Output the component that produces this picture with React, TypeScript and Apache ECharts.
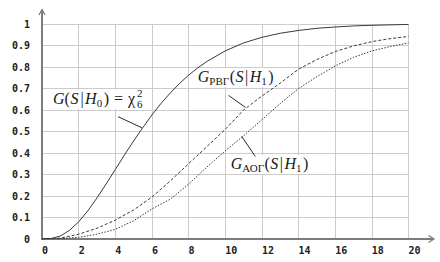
import React, { useEffect, useRef } from "react";
import * as echarts from "echarts";

// ---- data ----
const xTicks = [0, 2, 4, 6, 8, 10, 12, 14, 16, 18, 20];
const xTickLabels = ["0", "2", "4", "6", "8", "10", "12", "14", "16", "18", "20"];
const yTickLabels = ["0", "0.1", "0.2", "0.3", "0.4", "0.5", "0.6", "0.7", "0.8", "0.9", "1"];

// G(S|H0) = chi^2_6 (solid)
const solidX = [0, 0.5, 1, 1.5, 2, 2.5, 3, 3.5, 4, 4.5, 5, 5.5, 6, 6.5, 7, 7.5, 8, 8.5, 9, 10, 11, 12, 13, 14, 15, 16, 17, 18, 19, 20];
const solidY = [0, 0.002, 0.014, 0.04, 0.08, 0.131, 0.191, 0.256, 0.323, 0.391, 0.456, 0.518, 0.577, 0.631, 0.679, 0.723, 0.762, 0.796, 0.826, 0.875, 0.912, 0.938, 0.957, 0.97, 0.98, 0.986, 0.991, 0.994, 0.996, 0.998];

// G_RVG(S|H1) (dashed)
const rvgX = [0, 1, 2, 3, 4, 5, 6, 7, 8, 9, 10, 11, 12, 13, 14, 15, 16, 17, 18, 19, 20];
const rvgY = [0, 0.004, 0.022, 0.05, 0.088, 0.135, 0.195, 0.27, 0.35, 0.43, 0.51, 0.6, 0.665, 0.725, 0.79, 0.835, 0.872, 0.898, 0.918, 0.932, 0.942];

// G_AOG(S|H1) (dotted)
const aogX = [0, 1, 2, 3, 4, 5, 6, 7, 8, 9, 10, 11, 12, 13, 14, 15, 16, 17, 18, 19, 20];
const aogY = [0, 0.002, 0.008, 0.022, 0.045, 0.085, 0.14, 0.185, 0.255, 0.335, 0.41, 0.48, 0.555, 0.63, 0.7, 0.755, 0.805, 0.845, 0.875, 0.895, 0.912];

// annotation anchors (data coordinates): text start / baseline, leader lines
const label1Anchor = [0.6, 0.629];
const label2Anchor = [8.5, 0.73];
const label3Anchor = [10.3, 0.326];
const leader1 = [[4.15, 0.569], [5.46, 0.517]];
const leader2 = [[10.18, 0.668], [11.1, 0.612]];
const leader3 = [[10.9, 0.477], [11.64, 0.384]];

type Piece = { t: string; s?: number; it?: boolean; dy?: number; gap?: number; stack?: boolean };

const label1: Piece[] = [
  { t: "G", it: true }, { t: "(" }, { t: "S", it: true, gap: 0.5 }, { t: "|", gap: 2 }, { t: "H", it: true, gap: 1.5 },
  { t: "0", s: 11, dy: 3 }, { t: ")", gap: 1.5 }, { t: "=", gap: 5 }, { t: "χ", gap: 5 },
  { t: "2", s: 11, dy: -7, gap: 2 }, { t: "6", s: 11, dy: 4, stack: true },
];
const label2: Piece[] = [
  { t: "G", it: true }, { t: "РВГ", s: 11, dy: 3 }, { t: "(", gap: 0.5 }, { t: "S", it: true, gap: 0.5 }, { t: "|", gap: 1.5 },
  { t: "H", it: true, gap: 1.5 }, { t: "1", s: 11, dy: 3 }, { t: ")", gap: 1.5 },
];
const label3: Piece[] = [
  { t: "G", it: true }, { t: "АОГ", s: 11, dy: 3 }, { t: "(", gap: 0.5 }, { t: "S", it: true, gap: 0.5 }, { t: "|", gap: 1.5 },
  { t: "H", it: true, gap: 1.5 }, { t: "1", s: 11, dy: 3 }, { t: ")", gap: 1.5 },
];

const FONT = "Liberation Serif";
const TEXT_COLOR = "#1a1a1a";

function buildLabel(pieces: Piece[], x0: number, baseline: number, ctx: CanvasRenderingContext2D) {
  const els: any[] = [];
  let x = x0;
  let prevStart = x0;
  let prevW = 0;
  for (const p of pieces) {
    const size = p.s ?? 16;
    ctx.font = `${p.it ? "italic " : ""}${size}px "${FONT}"`;
    const w = ctx.measureText(p.t).width;
    let start: number;
    if (p.stack) {
      start = prevStart;
      x = Math.max(prevStart + prevW, start + w);
    } else {
      start = x + (p.gap ?? 0);
      x = start + w;
    }
    prevStart = start;
    prevW = w;
    els.push({
      type: "text",
      x: start,
      y: baseline + (p.dy ?? 0) - 0.34 * size,
      z: 10,
      silent: true,
      style: {
        text: p.t,
        fontFamily: FONT,
        fontSize: size,
        fontStyle: p.it ? "italic" : "normal",
        fill: TEXT_COLOR,
        verticalAlign: "middle",
        textAlign: "left",
      },
    });
  }
  els.unshift({
    type: "rect",
    z: 1,
    silent: true,
    shape: { x: x0 - 2, y: baseline - 14, width: x - x0 + 4, height: 19 },
    style: { fill: "#ffffff" },
  });
  return els;
}

export default function App() {
  const ref = useRef<HTMLDivElement>(null);
  useEffect(() => {
    const chart = echarts.init(ref.current!, null, { renderer: "svg" });
    const axisColor = "#7c7c7c";
    const gridColor = "#cbcbcb";
    const labelStyle = {
      fontFamily: "DejaVu Sans Mono",
      fontWeight: "bold" as const,
      fontSize: 10,
      color: "#202020",
    };
    chart.setOption({
      animation: false,
      backgroundColor: "#ffffff",
      grid: { left: 42, right: 31.5, top: 24, bottom: 23, containLabel: false },
      xAxis: {
        type: "value",
        min: xTicks[0],
        max: xTicks[xTicks.length - 1],
        interval: 2,
        axisLine: { show: true, onZero: false, lineStyle: { color: axisColor, width: 2 } },
        axisTick: { show: false },
        splitLine: { show: true, lineStyle: { color: gridColor, width: 1 } },
        axisLabel: {
          ...labelStyle,
          margin: 6,
          align: "left",
          formatter: (v: number) => xTickLabels[xTicks.indexOf(Math.round(v))] ?? "",
        },
      },
      yAxis: {
        type: "value",
        min: 0,
        max: 1,
        interval: 0.1,
        axisLine: { show: true, onZero: false, lineStyle: { color: axisColor, width: 2 } },
        axisTick: { show: false },
        splitLine: { show: true, lineStyle: { color: gridColor, width: 1 } },
        axisLabel: {
          ...labelStyle,
          margin: 12,
          padding: [3, 0, 0, 0],
          formatter: (v: number) => yTickLabels[Math.round(v * 10)] ?? "",
        },
      },
      series: [
        {
          type: "line",
          data: solidX.map((x, i) => [x, solidY[i]]),
          showSymbol: false,
          lineStyle: { color: "#3a3a3a", width: 1 },
          z: 3,
        },
        {
          type: "line",
          data: rvgX.map((x, i) => [x, rvgY[i]]),
          showSymbol: false,
          lineStyle: { color: "#3a3a3a", width: 1, type: [3, 2] },
          z: 3,
        },
        {
          type: "line",
          data: aogX.map((x, i) => [x, aogY[i]]),
          showSymbol: false,
          lineStyle: { color: "#3a3a3a", width: 1, type: [1.5, 1.5] },
          z: 3,
        },
      ],
    });

    const px = (p: number[]) => chart.convertToPixel({ gridIndex: 0 }, p) as number[];
    const ctx = document.createElement("canvas").getContext("2d")!;
    const top = px([0, 1]);
    const right = px([20, 0]);

    const graphics: any[] = [];
    // axis extensions with open arrow heads
    graphics.push({
      type: "line", z: 5, silent: true,
      shape: { x1: top[0], y1: top[1], x2: top[0], y2: top[1] - 14 },
      style: { stroke: axisColor, lineWidth: 2 },
    });
    graphics.push({
      type: "polyline", z: 5, silent: true,
      shape: { points: [[top[0] - 3, top[1] - 9], [top[0], top[1] - 14.5], [top[0] + 3, top[1] - 9]] },
      style: { stroke: axisColor, lineWidth: 1.3, fill: "none" },
    });
    graphics.push({
      type: "line", z: 5, silent: true,
      shape: { x1: right[0], y1: right[1], x2: right[0] + 25, y2: right[1] },
      style: { stroke: axisColor, lineWidth: 2 },
    });
    graphics.push({
      type: "polyline", z: 5, silent: true,
      shape: { points: [[right[0] + 20, right[1] - 3.5], [right[0] + 25.5, right[1]], [right[0] + 20, right[1] + 3.5]] },
      style: { stroke: axisColor, lineWidth: 1.3, fill: "none" },
    });

    // leader lines
    for (const l of [leader1, leader2, leader3]) {
      const a = px(l[0]);
      const b = px(l[1]);
      graphics.push({
        type: "line", z: 6, silent: true,
        shape: { x1: a[0], y1: a[1], x2: b[0], y2: b[1] },
        style: { stroke: "#2a2a2a", lineWidth: 1 },
      });
    }

    // labels
    const a1 = px(label1Anchor);
    const a2 = px(label2Anchor);
    const a3 = px(label3Anchor);
    graphics.push(...buildLabel(label1, a1[0], a1[1], ctx));
    graphics.push(...buildLabel(label2, a2[0], a2[1], ctx));
    graphics.push(...buildLabel(label3, a3[0], a3[1], ctx));

    chart.setOption({ graphic: graphics });
    return () => chart.dispose();
  }, []);
  return (
    <div
      ref={ref}
      style={{ position: "fixed", left: 0, top: 0, width: 440, height: 262, background: "#fff" }}
    />
  );
}
